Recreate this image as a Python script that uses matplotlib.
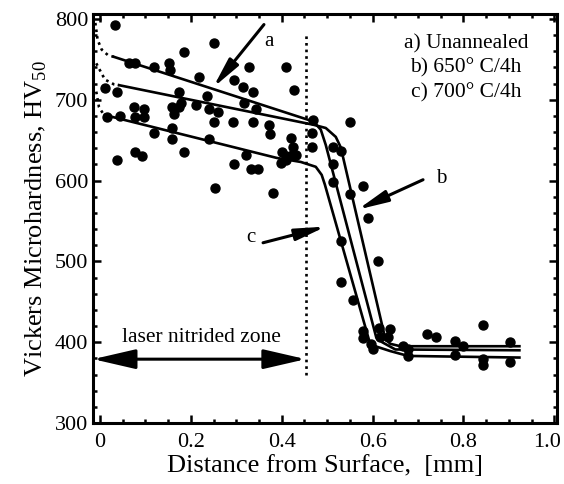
import matplotlib
matplotlib.use('Agg')
import matplotlib.pyplot as plt
from matplotlib.ticker import MultipleLocator
from matplotlib.transforms import ScaledTranslation

plt.rcParams['font.family'] = 'Liberation Serif'
plt.rcParams['mathtext.fontset'] = 'custom'
plt.rcParams['mathtext.rm'] = 'Liberation Serif'

# measured points (distance mm, HV50)
pts_x = [0.033, 0.252, 0.186, 0.063, 0.077, 0.118, 0.153, 0.155, 0.217, 0.328, 0.409, 0.295,
         0.315, 0.337, 0.427, 0.011, 0.037, 0.175, 0.236, 0.074, 0.096, 0.158, 0.173, 0.179,
         0.162, 0.317, 0.344, 0.212, 0.239, 0.252, 0.260, 0.293, 0.337, 0.372, 0.374, 0.015,
         0.044, 0.077, 0.098, 0.118, 0.158, 0.158, 0.239, 0.037, 0.077, 0.092, 0.186, 0.322,
         0.295, 0.333, 0.348, 0.254, 0.381, 0.420, 0.425, 0.400, 0.409, 0.422, 0.431, 0.398,
         0.409, 0.468, 0.466, 0.466,
         0.551, 0.514, 0.530, 0.514, 0.514, 0.578, 0.551, 0.591, 0.530, 0.613, 0.530, 0.556,
         0.578, 0.580, 0.597, 0.602, 0.615, 0.617, 0.639, 0.635, 0.667, 0.678, 0.678, 0.720,
         0.740, 0.781, 0.781, 0.799, 0.842, 0.842, 0.842, 0.902, 0.902]
pts_y = [793, 770, 759, 746, 746, 740, 746, 737, 728, 740, 741, 724,
         716, 710, 712, 715, 709, 710, 704, 691, 688, 691, 691, 696,
         682, 696, 688, 694, 688, 673, 685, 672, 672, 669, 657, 679,
         680, 678, 678, 659, 665, 651, 651, 626, 635, 630, 635, 632,
         620, 614, 614, 591, 585, 653, 642, 635, 630, 632, 632, 622,
         626, 675, 659, 641,
         672, 641, 636, 620, 598, 593, 583, 554, 525, 500, 474, 452,
         414, 405, 398, 391, 417, 407, 416, 406, 395, 391, 383, 410,
         406, 401, 384, 395, 421, 379, 372, 400, 375]

# fitted curves: a) unannealed, b) 650 C/4h, c) 700 C/4h
a_x = [0.031, 0.470, 0.486, 0.497, 0.608, 0.621, 0.650, 0.923]
a_y = [753, 673, 663, 644, 406, 400, 391, 390]
b_x = [0.042, 0.470, 0.497, 0.519, 0.530, 0.628, 0.639, 0.661, 0.923]
b_y = [718, 669, 665, 654, 641, 404, 398, 395, 395]
c_x = [0.011, 0.389, 0.442, 0.475, 0.488, 0.495, 0.595, 0.639, 0.678, 0.923]
c_y = [681, 628, 623, 617, 607, 595, 397, 389, 383, 381]

# dotted extrapolation near the surface
a_dot_x = [-0.010, -0.005, 0.004, 0.018, 0.031]
a_dot_y = [795, 774, 762, 755, 753]
b_dot_x = [-0.008, 0.011, 0.031, 0.042]
b_dot_y = [745, 725, 719, 718]
c_dot_x = [-0.008, -0.002, 0.009, 0.011]
c_dot_y = [710, 691, 681, 681]

zone_edge = 0.453

fig = plt.figure(figsize=(5.64, 4.84), dpi=100)
ax = fig.add_axes([0.165, 0.126, 0.822, 0.845])

ax.scatter(pts_x, pts_y, s=42, color='black', zorder=3)
for xs, ys in [(a_x, a_y), (b_x, b_y), (c_x, c_y)]:
    ax.plot(xs, ys, color='black', lw=1.9, zorder=2)
for xs, ys in [(a_dot_x, a_dot_y), (b_dot_x, b_dot_y), (c_dot_x, c_dot_y)]:
    ax.plot(xs, ys, color='black', lw=1.9, ls=(0, (1, 1.5)), zorder=2)

ax.plot([zone_edge, zone_edge], [360, 784], color='black', lw=1.9, ls=(0, (1, 1.5)))

arr = dict(arrowstyle='-|>,head_length=1.8,head_width=0.35', lw=2.2, color='black', shrinkA=0, shrinkB=0)
ax.annotate('', xy=(0.249, 715), xytext=(0.361, 793), arrowprops=arr)
ax.text(0.372, 772, 'a', fontsize=15, ha='center', va='center')
ax.annotate('', xy=(0.567, 564), xytext=(0.711, 601), arrowprops=arr)
ax.text(0.750, 603, 'b', fontsize=15, ha='center', va='center')
ax.annotate('', xy=(0.497, 543), xytext=(0.359, 523), arrowprops=arr)
ax.text(0.333, 530, 'c', fontsize=15, ha='center', va='center')

dbl = dict(arrowstyle='<|-|>,head_length=2.6,head_width=0.6', lw=2.2, color='black', shrinkA=0, shrinkB=0)
ax.annotate('', xy=(-0.015, 379), xytext=(zone_edge, 379), arrowprops=dbl)
ax.text(0.223, 406, 'laser nitrided zone', fontsize=15.5, ha='center', va='center')

ax.text(0.805, 769, 'a) Unannealed', fontsize=15.5, ha='center', va='center')
ax.text(0.805, 739, 'b) 650° C/4h', fontsize=15.5, ha='center', va='center')
ax.text(0.805, 709, 'c) 700° C/4h', fontsize=15.5, ha='center', va='center')

ax.set_xlim(-0.015, 1.005)
ax.set_ylim(300, 806)
ax.xaxis.set_major_locator(MultipleLocator(0.2))
ax.xaxis.set_minor_locator(MultipleLocator(0.05))
ax.yaxis.set_major_locator(MultipleLocator(100))
ax.yaxis.set_minor_locator(MultipleLocator(20))
ax.set_xticks([0, 0.2, 0.4, 0.6, 0.8, 1.0])
ax.set_xticklabels(['0', '0.2', '0.4', '0.6', '0.8', '1.0'])
ax.tick_params(which='both', direction='in', top=True, right=True, labelsize=16, width=1.8)
ax.tick_params(axis='x', pad=7)
ax.tick_params(which='major', length=6)
ax.tick_params(which='minor', length=3)
for s in ax.spines.values():
    s.set_linewidth(2.2)

# keep the last x label inside the canvas
last = ax.get_xticklabels()[-1]
last.set_transform(last.get_transform() + ScaledTranslation(-7 / 100, 0, fig.dpi_scale_trans))

ax.set_xlabel('Distance from Surface,  [mm]', fontsize=19, labelpad=2)
ax.set_ylabel(r'Vickers Microhardness, HV$_{50}$', fontsize=19, labelpad=4)

fig.savefig('out.png', dpi=100)
